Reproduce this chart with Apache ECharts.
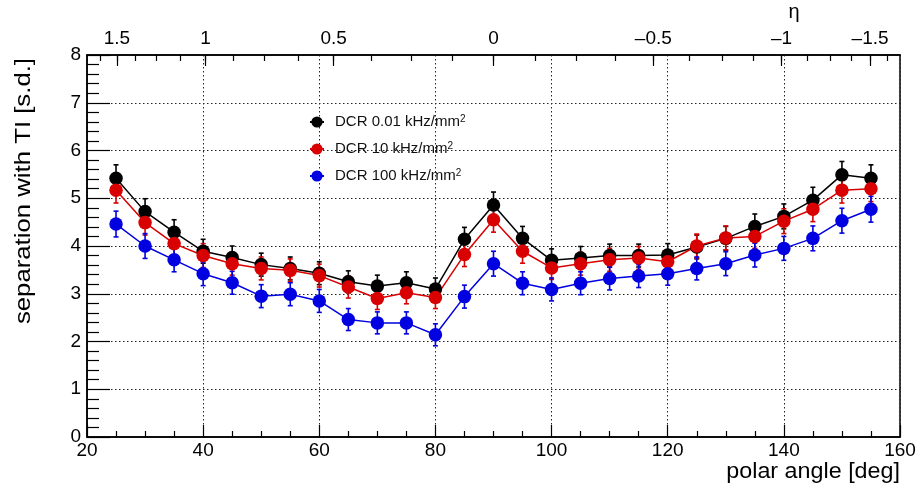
<!DOCTYPE html>
<html>
<head>
<meta charset="utf-8">
<script src="https://cdn.jsdelivr.net/npm/echarts@6/dist/echarts.min.js"></script>
<style>html,body{margin:0;padding:0;background:#fff}#chart{width:920px;height:492px}</style>
</head>
<body>
<div id="chart"></div>
<script>
// ---- data ----
const polarAngles = [25,30,35,40,45,50,55,60,65,70,75,80,85,90,95,100,105,110,115,120,125,130,135,140,145,150,155];
const sepDCR001 = [5.42,4.72,4.29,3.89,3.76,3.61,3.53,3.43,3.25,3.16,3.23,3.10,4.14,4.86,4.16,3.70,3.75,3.80,3.80,3.81,3.98,4.16,4.41,4.62,4.96,5.49,5.42];
const sepDCR10  = [5.17,4.49,4.05,3.80,3.63,3.53,3.49,3.38,3.14,2.90,3.02,2.92,3.82,4.55,3.89,3.54,3.63,3.71,3.75,3.67,4.00,4.17,4.20,4.52,4.77,5.17,5.20];
const sepDCR100 = [4.46,4.00,3.71,3.42,3.23,2.95,2.99,2.85,2.46,2.39,2.39,2.14,2.94,3.63,3.22,3.09,3.22,3.32,3.37,3.42,3.53,3.63,3.81,3.95,4.16,4.53,4.77];
const errDCR001 = [0.28,0.27,0.26,0.25,0.24,0.24,0.24,0.24,0.23,0.23,0.23,0.23,0.25,0.27,0.25,0.24,0.24,0.24,0.24,0.24,0.25,0.25,0.26,0.26,0.27,0.28,0.28];
const errDCR10  = [0.27,0.26,0.25,0.25,0.24,0.24,0.24,0.24,0.23,0.23,0.23,0.23,0.25,0.26,0.25,0.24,0.24,0.24,0.24,0.24,0.25,0.25,0.25,0.26,0.26,0.27,0.27];
const errDCR100 = [0.27,0.26,0.25,0.25,0.24,0.24,0.24,0.24,0.23,0.23,0.23,0.23,0.24,0.26,0.24,0.24,0.24,0.24,0.24,0.24,0.24,0.25,0.25,0.25,0.26,0.26,0.27];
const seriesNames = ['DCR 0.01 kHz/mm²','DCR 10 kHz/mm²','DCR 100 kHz/mm²'];
const seriesColors = ['#000000','#d80000','#0000e0'];
const yTicks = [0,1,2,3,4,5,6,7,8];
const xTicks = [20,40,60,80,100,120,140,160];
const etaLabels = [1.5,1,0.5,0,-0.5,-1,-1.5];
const etaMinorTicks = [1.625,1.5,1.375,1.25,1.125,1,0.875,0.75,0.625,0.5,0.375,0.25,0.125,0,-0.125,-0.25,-0.375,-0.5,-0.625,-0.75,-0.875,-1,-1.125,-1.25,-1.375,-1.5,-1.625];

// ---- helpers ----
const FONT = 'Liberation Sans, Arial, Helvetica, sans-serif';
const etaToTheta = eta => 2 * Math.atan(Math.exp(-eta)) * 180 / Math.PI;
const thetaToEta = th => -Math.log(Math.tan(th * Math.PI / 360));
function fmtEta(v) {
  const e = Math.round(thetaToEta(v) * 2) / 2;
  if (Math.abs(e) < 1e-9) return '0';
  return (e < 0 ? '\u2013' : '') + String(Math.abs(e));
}
const values = [sepDCR001, sepDCR10, sepDCR100];
const errors = [errDCR001, errDCR10, errDCR100];

function makeErr(color) {
  return function (params, api) {
    const x = api.value(0), y = api.value(1), e = api.value(2);
    const t = api.coord([x, y + e]), b = api.coord([x, y - e]);
    const c = 2.5;
    const st = { stroke: color, lineWidth: 1.6 };
    return { type: 'group', children: [
      { type: 'line', shape: { x1: t[0], y1: t[1], x2: b[0], y2: b[1] }, style: st },
      { type: 'line', shape: { x1: t[0] - c, y1: t[1], x2: t[0] + c, y2: t[1] }, style: st },
      { type: 'line', shape: { x1: b[0] - c, y1: b[1], x2: b[0] + c, y2: b[1] }, style: st }
    ]};
  };
}

const series = [];
seriesNames.forEach((name, i) => {
  series.push({
    type: 'custom', name: name + ' err', xAxisIndex: 0, yAxisIndex: 0, silent: true,
    renderItem: makeErr(seriesColors[i]), encode: { x: 0, y: 1 },
    data: polarAngles.map((x, k) => [x, values[i][k], errors[i][k]])
  });
  series.push({
    type: 'line', name: name, xAxisIndex: 0, yAxisIndex: 0,
    data: polarAngles.map((x, k) => [x, values[i][k]]),
    symbol: 'circle', symbolSize: 13.5,
    lineStyle: { color: seriesColors[i], width: 1.5 },
    itemStyle: { color: seriesColors[i] },
    animation: false
  });
});

const legendCenters = [122, 149, 176];
const legends = seriesNames.map((n, i) => ({
  data: [n], left: 309, top: legendCenters[i] - 8, padding: 0,
  itemWidth: 14, itemHeight: 14, selectedMode: false,
  formatter: s => '{a|' + s.replace('²', '') + '}{s|2}',
  textStyle: { rich: {
    a: { fontFamily: FONT, fontSize: 15, color: '#111', lineHeight: 16, padding: [0, 0, 0, 6] },
    s: { fontFamily: FONT, fontSize: 10, color: '#111', lineHeight: 16, verticalAlign: 'top' }
  }}
}));

const chart = echarts.init(document.getElementById('chart'));
chart.setOption({
  animation: false,
  backgroundColor: '#fff',
  grid: { left: 87, right: 20, top: 55, bottom: 55, show: true, borderColor: '#000', borderWidth: 1.5, backgroundColor: 'transparent' },
  legend: legends,
  xAxis: [
    {
      type: 'value', position: 'bottom', min: 20, max: 160, interval: 20,
      axisLine: { show: true, lineStyle: { color: '#000', width: 1.5 } },
      axisTick: { show: true, inside: true, length: 12, lineStyle: { color: '#000', width: 1.2 } },
      minorTick: { show: true, splitNumber: 4, length: 6, lineStyle: { color: '#000', width: 1.2 } },
      axisLabel: { fontFamily: FONT, fontSize: 19, color: '#000', margin: 4,
        customValues: xTicks },
      splitLine: { show: true, lineStyle: { color: '#222', width: 1, type: [1.5, 2.5] } }
    },
    {
      type: 'value', position: 'top', min: 20, max: 160,
      axisLine: { show: true, lineStyle: { color: '#000', width: 1.5 } },
      axisTick: { show: true, inside: true, length: 11, customValues: etaLabels.map(etaToTheta), lineStyle: { color: '#000', width: 1.2 } },
      axisLabel: { show: true, fontFamily: FONT, fontSize: 19, color: '#000', margin: 7,
        customValues: etaLabels.map(etaToTheta), formatter: v => fmtEta(v) },
      splitLine: { show: false }
    },
    {
      type: 'value', position: 'top', min: 20, max: 160,
      axisLine: { show: false },
      axisTick: { show: true, inside: true, length: 6, customValues: etaMinorTicks.map(etaToTheta), lineStyle: { color: '#000', width: 1.2 } },
      axisLabel: { show: false },
      splitLine: { show: false }
    }
  ],
  yAxis: [
    {
      type: 'value', min: 0, max: 8, interval: 1,
      axisLine: { show: true, lineStyle: { color: '#000', width: 1.5 } },
      axisTick: { show: true, inside: true, length: 23, lineStyle: { color: '#000', width: 1.2 } },
      minorTick: { show: true, splitNumber: 5, length: 12, lineStyle: { color: '#000', width: 1.2 } },
      axisLabel: { fontFamily: FONT, fontSize: 19, color: '#000', margin: 6, customValues: yTicks },
      splitLine: { show: true, lineStyle: { color: '#222', width: 1, type: [1.5, 2.5] } }
    }
  ],
  graphic: [
    { type: 'text', x: 24, y: 58, rotation: Math.PI / 2, scaleX: 1.17,
      style: { text: 'separation with TI [s.d.]', fontFamily: FONT, fontSize: 22, fill: '#000', textAlign: 'right', textVerticalAlign: 'middle' } },
    { type: 'text', x: 900, y: 472, scaleX: 1.06,
      style: { text: 'polar angle [deg]', fontFamily: FONT, fontSize: 22, fill: '#000', textAlign: 'right', textVerticalAlign: 'middle' } },
    { type: 'text', x: 794, y: 12,
      style: { text: 'η', fontFamily: FONT, fontSize: 20, fill: '#000', textAlign: 'center', textVerticalAlign: 'middle' } }
  ],
  series: series
});
</script>
</body>
</html>
